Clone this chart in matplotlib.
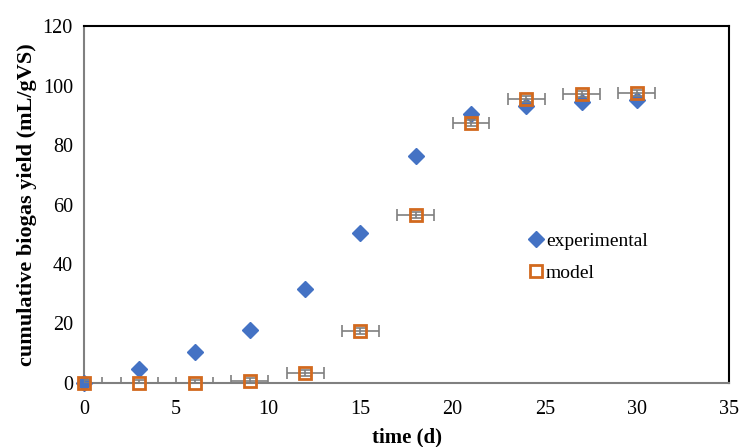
import matplotlib.pyplot as plt

plt.rcParams['font.family'] = ['Liberation Serif', 'DejaVu Serif']

# data
time_exp = [0, 3, 6, 9, 12, 15, 18, 21, 24, 27, 30]
yield_exp = [0, 4.7, 10.4, 17.8, 31.6, 50.4, 76.3, 90.4, 93.0, 94.5, 95.1]

time_model = [0, 3, 6, 9, 12, 15, 18, 21, 24, 27, 30]
yield_model = [0, 0, 0, 0.7, 3.4, 17.5, 56.5, 87.4, 95.5, 97.2, 97.5]
x_err = [1] * len(time_model)
y_err = [1] * len(time_model)

xticks = [0, 5, 10, 15, 20, 25, 30, 35]
yticks = [0, 20, 40, 60, 80, 100, 120]

fig = plt.figure(figsize=(7.39, 4.47), dpi=100)
ax = fig.add_axes([0.1137, 0.1432, 0.8728, 0.7986])

ax.plot(time_exp, yield_exp, linestyle='none', marker='D', markersize=8,
        color='#4472C4', label='experimental', zorder=3, clip_on=False)
ax.errorbar(time_model, yield_model, xerr=x_err, yerr=y_err, fmt='none',
            ecolor='#7F7F7F', elinewidth=1.2, capsize=4, capthick=1.2, zorder=4)
ax.plot(time_model, yield_model, linestyle='none', marker='s', markersize=8,
        markerfacecolor='none', markeredgecolor='#D2691E', markeredgewidth=2,
        label='model', zorder=5, clip_on=False)

ax.set_xlim(0, 35)
ax.set_ylim(0, 120)
ax.set_xticks(xticks)
ax.set_yticks(yticks)
ax.tick_params(axis='both', length=0, labelsize=14.5)
ax.tick_params(axis='x', pad=12)
ax.tick_params(axis='y', pad=8)

for s in ['top', 'right']:
    ax.spines[s].set_color('black')
    ax.spines[s].set_linewidth(1.5)
for s in ['left', 'bottom']:
    ax.spines[s].set_color('#808080')
    ax.spines[s].set_linewidth(1.5)

ax.set_xlabel('time (d)', fontsize=15, fontweight='bold', labelpad=6)
ax.set_ylabel('cumulative biogas yield (mL/gVS)', fontsize=16, fontweight='bold', labelpad=4)

ax.legend(loc='upper left', bbox_to_anchor=(0.68, 0.445), frameon=False,
          fontsize=14, handlelength=0.6, handletextpad=0.2, labelspacing=0.75,
          borderaxespad=0)

fig.savefig('out.png', dpi=100)
